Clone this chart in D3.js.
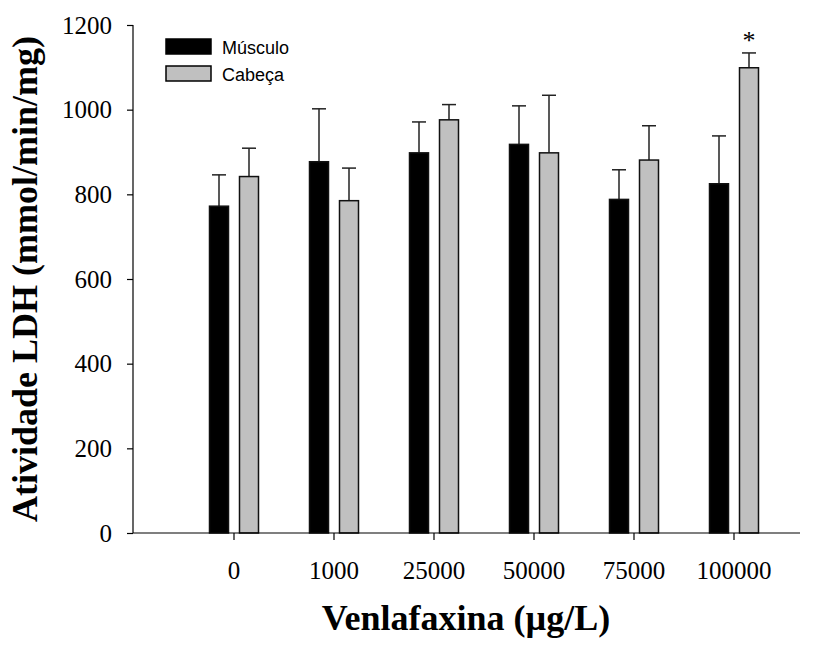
<!DOCTYPE html>
<html>
<head>
<meta charset="utf-8">
<script src="https://cdn.jsdelivr.net/npm/d3@7"></script>
<style>
  html, body { margin: 0; padding: 0; background: #fff; }
  svg { display: block; }
</style>
</head>
<body>
<svg id="chart" width="826" height="650"></svg>
<script>
const categories = ["0", "1000", "25000", "50000", "75000", "100000"];
const seriesNames = ["Músculo", "Cabeça"];
const musculo = [772, 877, 898, 918, 788, 825];
const musculoErr = [74, 125, 73, 91, 70, 113];
const cabeca = [842, 785, 976, 898, 881, 1099];
const cabecaErr = [67, 77, 36, 136, 81, 35];
const yTicks = [0, 200, 400, 600, 800, 1000, 1200];
const significant = [false, false, false, false, false, true];
const xTitle = "Venlafaxina (µg/L)";
const yTitle = "Atividade LDH (mmol/min/mg)";

const serif = "'Liberation Serif', 'Times New Roman', Times, serif";
const sans = "'Liberation Sans', Arial, Helvetica, sans-serif";

const svg = d3.select("#chart");
const axisLeftX = 133, axisRightX = 800, y0px = 533, yTop = 25;

const x = d3.scaleBand().domain(categories).range([184, 784]).padding(0);
const y = d3.scaleLinear().domain([0, 1200]).range([y0px, yTop]);

const barW = 19;
const series = [
  { name: seriesNames[0], values: musculo, err: musculoErr, fill: "#000000", off: -24.5 },
  { name: seriesNames[1], values: cabeca, err: cabecaErr, fill: "#c0c0c0", off: 5.5 }
];

// error bars
series.forEach(s => {
  const g = svg.append("g");
  categories.forEach((c, i) => {
    const cx = x(c) + x.bandwidth() / 2 + s.off + barW / 2;
    const top = y(s.values[i] + s.err[i]);
    g.append("line").attr("x1", cx).attr("x2", cx)
      .attr("y1", y(s.values[i])).attr("y2", top)
      .attr("stroke", "#222").attr("stroke-width", 1.5);
    g.append("line").attr("x1", cx - 7).attr("x2", cx + 7)
      .attr("y1", top).attr("y2", top)
      .attr("stroke", "#222").attr("stroke-width", 1.5);
  });
});

// bars
series.forEach(s => {
  svg.append("g").selectAll("rect").data(categories).join("rect")
    .attr("x", c => x(c) + x.bandwidth() / 2 + s.off)
    .attr("y", (c, i) => y(s.values[i]))
    .attr("width", barW)
    .attr("height", (c, i) => y(0) - y(s.values[i]))
    .attr("fill", s.fill)
    .attr("stroke", "#111")
    .attr("stroke-width", 1.5);
});

// significance markers
svg.append("g").selectAll("text").data(categories.filter((c, i) => significant[i])).join("text")
  .attr("x", c => x(c) + x.bandwidth() / 2 + series[1].off + barW / 2)
  .attr("y", c => y(cabeca[categories.indexOf(c)] + cabecaErr[categories.indexOf(c)]) - 4)
  .attr("text-anchor", "middle")
  .style("font-family", serif)
  .style("font-size", "26px")
  .text("*");

// y axis
const yAxis = svg.append("g").attr("transform", `translate(${axisLeftX},0)`)
  .call(d3.axisLeft(y).tickValues(yTicks).tickSize(6).tickPadding(15).tickFormat(d3.format("d")));
yAxis.attr("font-family", null).attr("font-size", null);
yAxis.selectAll("text").style("font-family", serif).style("font-size", "25px").attr("fill", "#000");
yAxis.selectAll("line,path").attr("stroke", "#000").attr("stroke-width", 1.2);
yAxis.select(".domain").attr("d", `M0,${yTop}V${y0px}`);

// x axis
const xAxis = svg.append("g").attr("transform", `translate(0,${y0px})`)
  .call(d3.axisBottom(x).tickSize(7).tickPadding(21));
xAxis.attr("font-family", null).attr("font-size", null);
xAxis.selectAll("text").style("font-family", serif).style("font-size", "25px").attr("fill", "#000");
xAxis.selectAll("line,path").attr("stroke", "#000").attr("stroke-width", 1.2);
xAxis.select(".domain").attr("d", `M${axisLeftX},0H${axisRightX}`);

// titles
svg.append("text")
  .attr("x", 466).attr("y", 630)
  .attr("text-anchor", "middle")
  .style("font-family", serif)
  .style("font-size", "36px").style("font-weight", "bold")
  .text(xTitle);

svg.append("text")
  .attr("transform", `translate(37,279) rotate(-90)`)
  .attr("text-anchor", "middle")
  .style("font-family", serif)
  .style("font-size", "36px").style("font-weight", "bold")
  .text(yTitle);

// legend
const legend = svg.append("g");
series.forEach((s, i) => {
  legend.append("rect").attr("x", 166).attr("y", 39 + i * 27)
    .attr("width", 45).attr("height", 15)
    .attr("fill", s.fill).attr("stroke", "#000").attr("stroke-width", 1.5);
  legend.append("text").attr("x", 222).attr("y", 54 + i * 27)
    .style("font-family", sans)
    .style("font-size", "18px").attr("fill", "#000")
    .text(s.name);
});
</script>
</body>
</html>
